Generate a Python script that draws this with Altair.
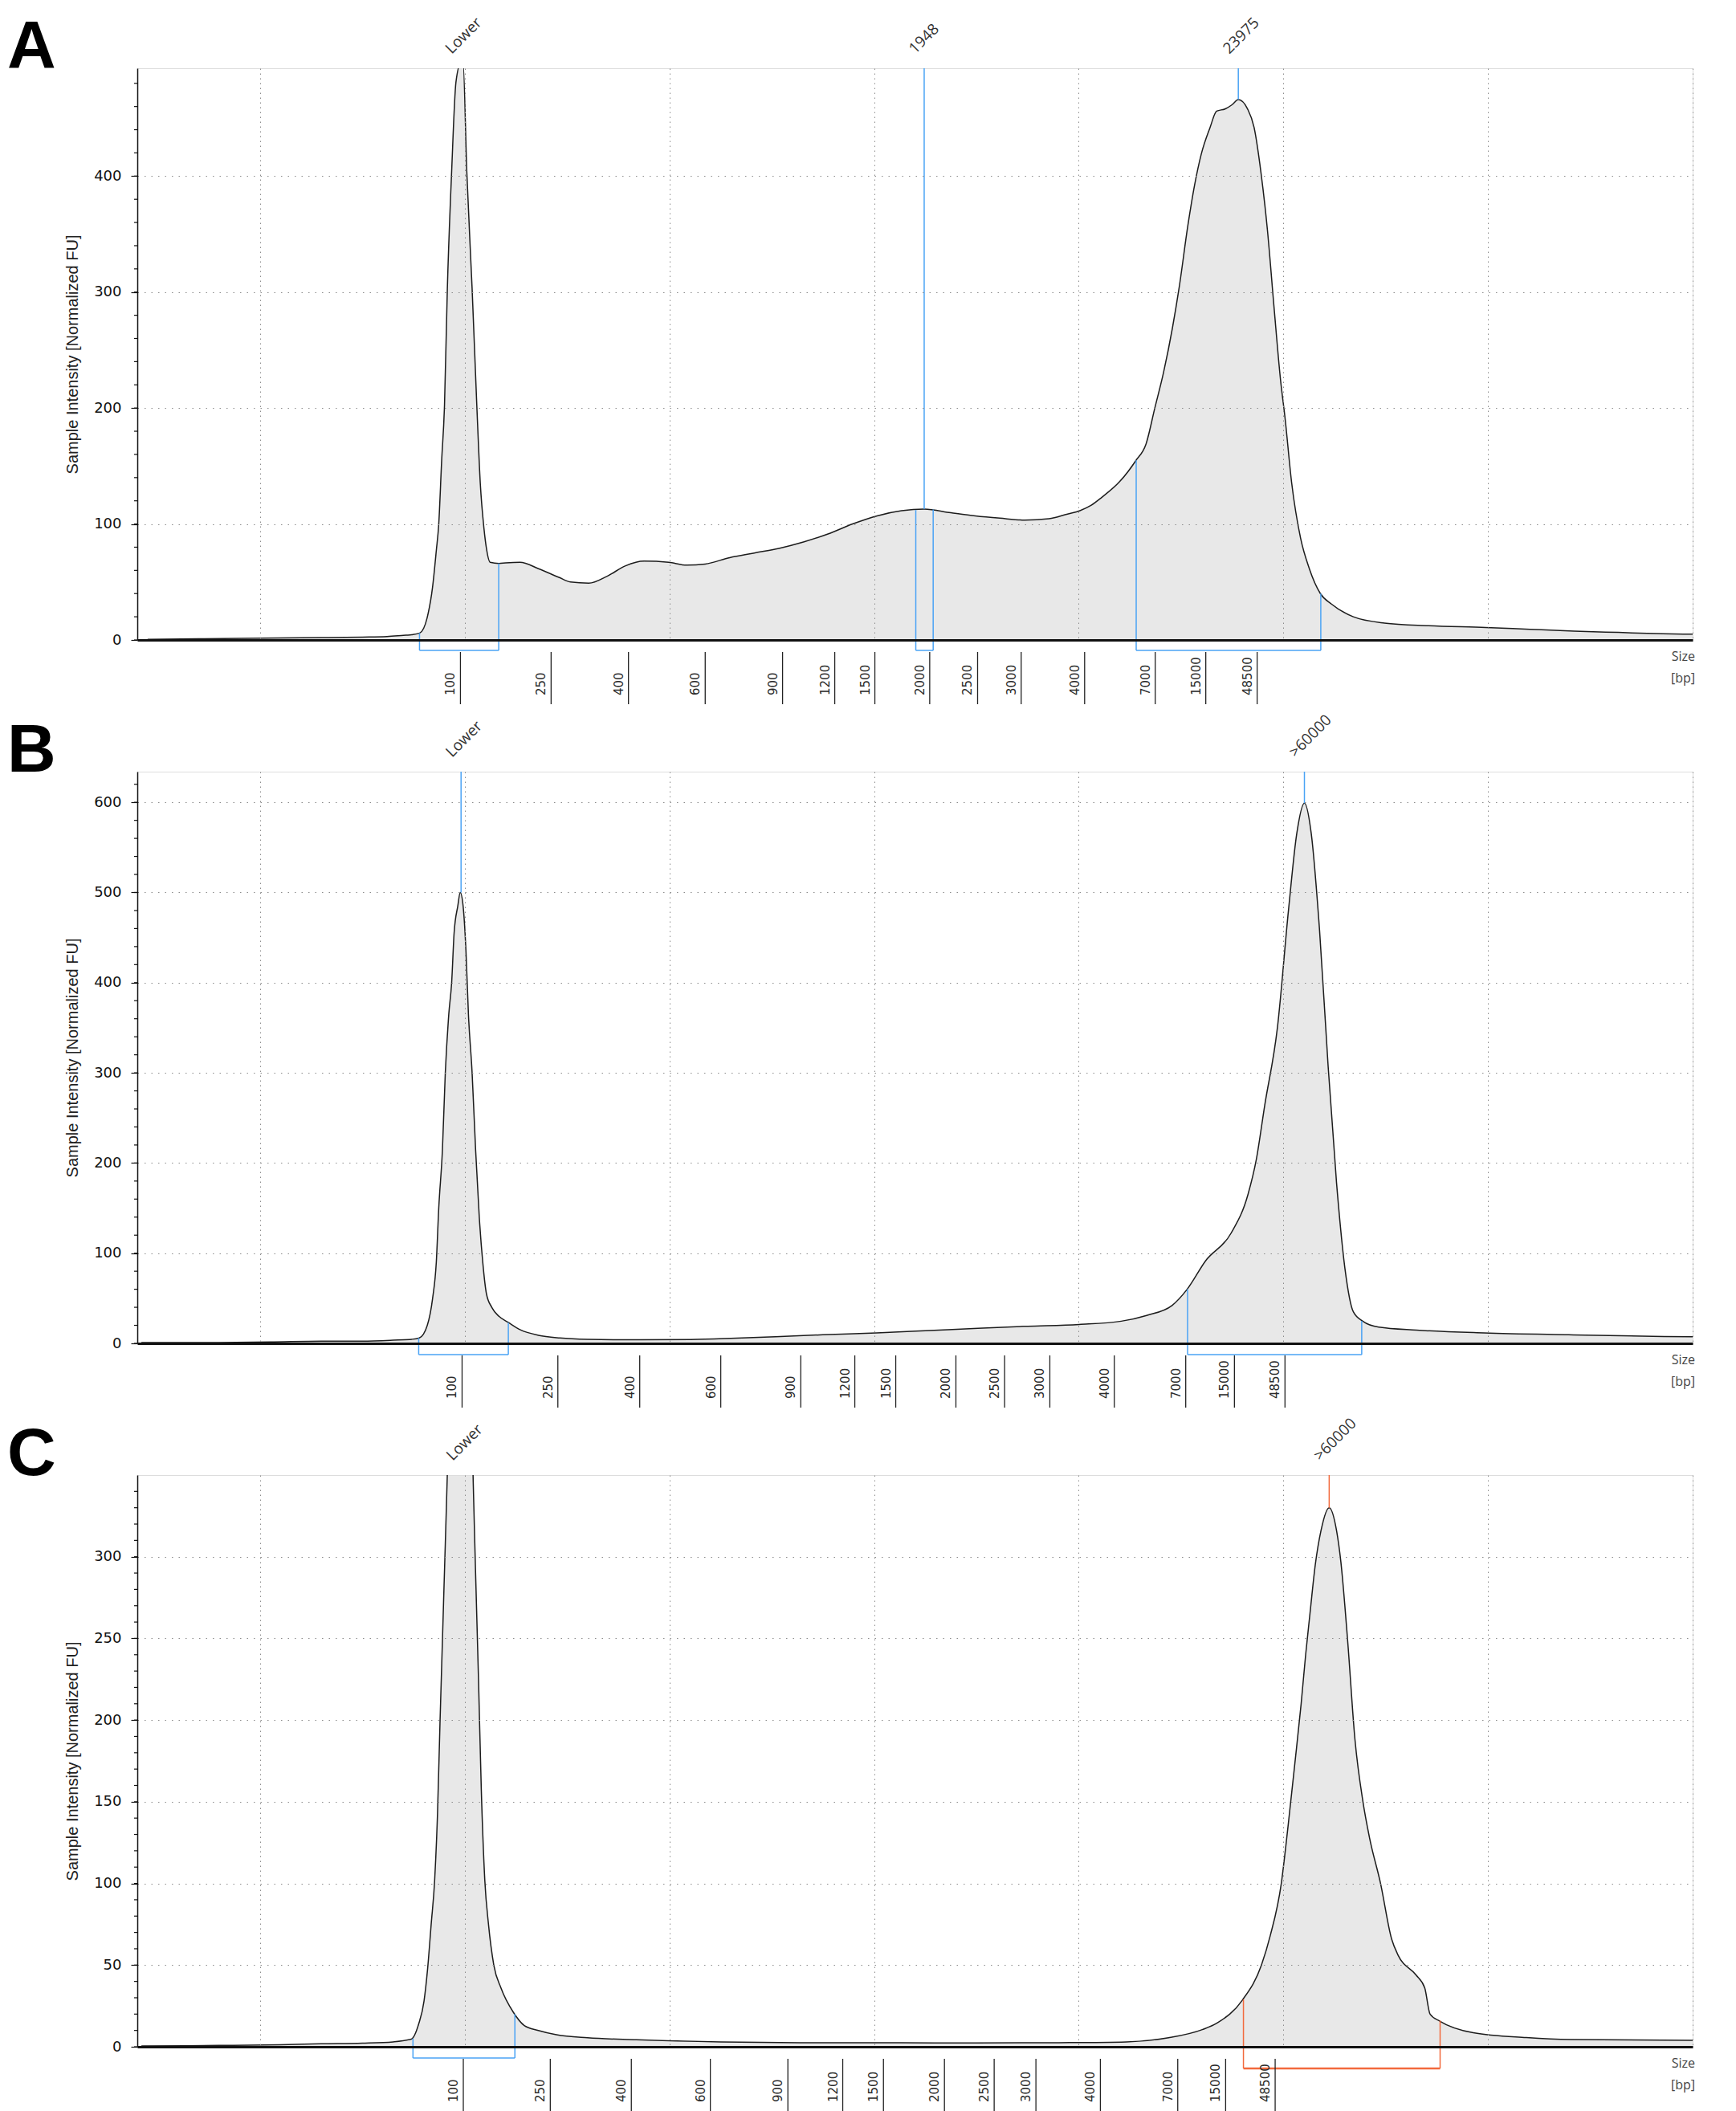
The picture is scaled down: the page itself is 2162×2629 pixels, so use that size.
import altair as alt
import pandas as pd

W, H = 1937, 712
BLUE = "#4aa3f5"
ORANGE = "#f26a3d"

# ---------------- data ----------------
LADDER_LABELS = ["100", "250", "400", "600", "900", "1200", "1500", "2000",
                 "2500", "3000", "4000", "7000", "15000", "48500"]

# Panel A
A_t = [0.45, 0.7, 1.0, 1.3, 1.5, 1.62, 1.7, 1.74, 1.78, 1.816, 1.843, 1.861, 1.873,
       1.887, 1.901, 1.915, 1.936, 1.957, 1.98, 1.992, 2.01, 2.036, 2.059, 2.076,
       2.094, 2.106, 2.124, 2.167, 2.2, 2.27, 2.36, 2.46, 2.516, 2.606, 2.696,
       2.786, 2.876, 2.996, 3.085, 3.175, 3.295, 3.415, 3.535, 3.655, 3.775, 3.895,
       4.015, 4.135, 4.245, 4.375, 4.495, 4.615, 4.735, 4.855, 4.945, 5.006, 5.06,
       5.113, 5.2, 5.279, 5.329, 5.372, 5.415, 5.458, 5.491, 5.534, 5.566, 5.599,
       5.642, 5.674, 5.717, 5.749, 5.78, 5.825, 5.857, 5.89, 5.922, 5.954, 5.987,
       6.008, 6.041, 6.084, 6.127, 6.181, 6.235, 6.342, 6.494, 6.709, 6.989, 7.205,
       7.421, 7.637, 7.853, 8.0]
A_v = [0.5, 1, 1.5, 2, 2.5, 3, 4, 4.5, 6, 19, 46, 77, 100,
       154, 202, 303, 404, 481, 497, 497, 404, 303, 202, 135,
       96, 79, 67, 66, 66.5, 67, 61.5, 54, 50, 49, 55,
       64, 68, 67, 64.5, 65.5, 71, 75, 79, 84.5, 91.4, 100,
       107, 111.4, 112.8, 109.7, 107, 105, 103.4, 104.5, 108.6, 111.5, 116,
       123, 136.5, 154.6, 169, 200, 231, 269, 304, 358, 392, 419,
       442, 456, 458, 461.5, 466, 458, 442, 404, 354, 288, 223,
       192, 135, 88, 61.5, 40, 31, 20, 14.6, 12.3, 10.8, 9.2,
       7.7, 6.5, 5.4, 5]

# Panel B
B_t = [0.42, 0.8, 1.05, 1.3, 1.5, 1.65, 1.74, 1.778, 1.817, 1.843, 1.861, 1.873, 1.891,
       1.905, 1.922, 1.936, 1.948, 1.966, 1.978, 1.992, 2.006, 2.018, 2.036, 2.053,
       2.071, 2.088, 2.106, 2.132, 2.167, 2.211, 2.272, 2.36, 2.465, 2.6, 2.858,
       3.105, 3.3, 3.518, 3.75, 4.012, 4.25, 4.507, 4.75, 5.002, 5.208, 5.332,
       5.456, 5.53, 5.62, 5.744, 5.827, 5.868, 5.909, 5.971, 6.025, 6.066, 6.103,
       6.136, 6.177, 6.219, 6.26, 6.301, 6.342, 6.388, 6.466, 6.651, 6.981, 7.394,
       7.806, 8.0]
B_v = [1, 1, 1.5, 2.5, 2.5, 3.5, 4.5, 6, 20, 50, 90, 150, 215,
       300, 365, 400, 455, 485, 500, 485, 435, 365, 300, 215,
       140, 90, 55, 40, 30, 23.5, 15, 9, 6, 4.5, 3.9,
       4.3, 5.5, 7.3, 9.5, 11.6, 14, 16.8, 19, 21, 24.6, 31,
       42, 60, 91.5, 122, 165, 204, 264, 350, 480, 566, 599,
       566, 458, 307, 178, 83, 35, 24.6, 18, 14.7, 11.6, 9.5,
       7.8, 7.3]

# Panel C
C_t = [0.42, 0.8, 1.1, 1.3, 1.5, 1.65, 1.739, 1.775, 1.801, 1.818, 1.836, 1.853, 1.867,
       1.879, 1.892, 1.905, 1.98, 2.055, 2.067, 2.081, 2.098, 2.116, 2.142, 2.177,
       2.238, 2.291, 2.36, 2.448, 2.6, 2.838, 3.251, 3.7, 4.077, 4.5, 4.903, 5.233,
       5.439, 5.604, 5.678, 5.8, 5.893, 5.936, 5.99, 6.023, 6.055, 6.087, 6.109,
       6.13, 6.156, 6.184, 6.224, 6.26, 6.281, 6.314, 6.35, 6.389, 6.421, 6.475,
       6.529, 6.561, 6.648, 6.691, 6.717, 6.766, 6.928, 7.187, 7.402, 8.0]
C_v = [0.5, 0.8, 1.2, 1.8, 2.2, 3, 4.7, 14, 28, 47, 75, 102, 143,
       198, 253, 308, 560, 281, 226, 157, 102, 75, 50, 36,
       21, 13, 10, 7.4, 5.5, 4.3, 3, 2.5, 2.5, 2.3, 2.5, 3,
       5.5, 10.5, 14.7, 28.6, 50, 68, 100, 135, 172, 210, 240,
       265, 295, 316, 330, 316, 297, 249, 188, 150, 128, 100,
       66, 56, 44, 36, 20, 15.6, 8.6, 5.6, 4.4, 3.9]

# Size-ladder positions (in run-time units) for each panel
A_ladder_t = [1.979, 2.422, 2.800, 3.175, 3.553, 3.808, 4.004, 4.272, 4.506, 4.719, 5.029, 5.374, 5.621, 5.872]
B_ladder_t = [1.987, 2.455, 2.855, 3.251, 3.642, 3.906, 4.106, 4.400, 4.638, 4.859, 5.174, 5.523, 5.761, 6.008]
C_ladder_t = [1.993, 2.418, 2.814, 3.200, 3.579, 3.847, 4.046, 4.344, 4.587, 4.791, 5.106, 5.484, 5.718, 5.960]

# Region brackets
A_br_t0 = [1.779, 4.204, 5.281]
A_br_t1 = [2.166, 4.289, 6.183]
A_br_v0 = [6, 112, 155]
A_br_v1 = [66, 112.5, 40]
A_br_col = [BLUE, BLUE, BLUE]
A_br_drop = [13, 13, 13]

B_br_t0 = [1.775, 5.532]
B_br_t1 = [2.213, 6.383]
B_br_v0 = [6, 60]
B_br_v1 = [23, 25]
B_br_col = [BLUE, BLUE]
B_br_drop = [14, 14]

C_br_t0 = [1.747, 5.805]
C_br_t1 = [2.245, 6.766]
C_br_v0 = [5, 29]
C_br_v1 = [20, 16]
C_br_col = [BLUE, ORANGE]
C_br_drop = [14, 27]

# Peak markers (line from top to peak) and peak labels
A_mk_t = [4.245, 5.780]
A_mk_v = [112.8, 466]
A_mk_col = [BLUE, BLUE]
A_lb_t = [1.98, 4.245, 5.780]
A_lb = ["Lower", "1948", "23975"]

B_mk_t = [1.982, 6.103]
B_mk_v = [500, 599]
B_mk_col = [BLUE, BLUE]
B_lb_t = [1.982, 6.103]
B_lb = ["Lower", ">60000"]

C_mk_t = [6.224]
C_mk_v = [330]
C_mk_col = [ORANGE]
C_lb_t = [1.985, 6.224]
C_lb = ["Lower", ">60000"]

GRID_T = [1, 2, 3, 4, 5, 6, 7, 8]
GRID_COLOR = "#8c8c8c"


def panel(letter, t, v, ymax, ymaj, ymin, lad_t, br, mk, lb):
    xs = alt.Scale(domain=[0.4, 8.0], nice=False, zero=False)
    ys = alt.Scale(domain=[0, ymax], nice=False, zero=True)

    area = alt.Chart(pd.DataFrame({"t": t, "v": v})).mark_area(
        interpolate="monotone", color="#dedede", clip=True,
        line={"color": "#1c1c1c", "strokeWidth": 1.5},
    ).encode(
        x=alt.X("t:Q", scale=xs, axis=alt.Axis(
            values=GRID_T, labels=False, ticks=False, title=None,
            domainColor="#111111", domainWidth=3,
            grid=True, gridColor=GRID_COLOR, gridDash=[1.5, 4.5], gridWidth=1, zindex=1)),
        y=alt.Y("v:Q", scale=ys, axis=alt.Axis(
            values=ymaj, title="Sample Intensity [Normalized FU]",
            titleFont="Liberation Sans", titleFontSize=20, titleFontWeight="normal",
            titleColor="#222222", titlePadding=16,
            labelFont="DejaVu Sans", labelFontSize=18, labelColor="#111111",
            labelPadding=12, tickSize=8, tickColor="#111111", tickWidth=1.2,
            domainColor="#111111", domainWidth=1.5,
            grid=True, gridColor=GRID_COLOR, gridDash=[1.5, 7], gridWidth=1, zindex=1)),
    )

    # minor ticks on the left axis
    minor = alt.Chart(pd.DataFrame({"m": ymin})).mark_rule(
        color="#111111", strokeWidth=1.2).encode(
        y=alt.Y("m:Q", scale=ys), x=alt.value(-4), x2=alt.value(0))

    layers = [area, minor]

    bdf = pd.DataFrame({"t0": br[0], "t1": br[1], "v0": br[2], "v1": br[3],
                        "col": br[4], "drop": br[5]})
    for _, r in bdf.iterrows():
        d = pd.DataFrame({"t": [r.t0, r.t1], "v": [r.v0, r.v1]})
        layers.append(alt.Chart(d).mark_rule(color=r.col, strokeWidth=1.5).encode(
            x=alt.X("t:Q", scale=xs), y=alt.Y("v:Q", scale=ys),
            y2=alt.value(H + r["drop"])))
        d2 = pd.DataFrame({"t0": [r.t0], "t1": [r.t1]})
        layers.append(alt.Chart(d2).mark_rule(
            color=r.col, strokeWidth=(2.5 if r.col == ORANGE else 1.5)).encode(
            x=alt.X("t0:Q", scale=xs), x2="t1:Q", y=alt.value(H + r["drop"])))

    mdf = pd.DataFrame({"t": mk[0], "v": mk[1], "col": mk[2]})
    for _, r in mdf.iterrows():
        d = pd.DataFrame({"t": [r.t], "v": [r.v]})
        layers.append(alt.Chart(d).mark_rule(color=r.col, strokeWidth=1.5).encode(
            x=alt.X("t:Q", scale=xs), y=alt.Y("v:Q", scale=ys), y2=alt.value(0)))

    layers.append(alt.Chart(pd.DataFrame({"t": lb[0], "lbl": lb[1]})).mark_text(
        angle=315, align="left", baseline="middle", dx=4, dy=-26,
        font="Open Sans", fontSize=19, color="#333333").encode(
        x=alt.X("t:Q", scale=xs), y=alt.value(0), text="lbl:N"))

    ldf = pd.DataFrame({"t": lad_t, "lbl": LADDER_LABELS})
    layers.append(alt.Chart(ldf).mark_rule(color="#222222", strokeWidth=1.3).encode(
        x=alt.X("t:Q", scale=xs), y=alt.value(H + 15), y2=alt.value(H + 80)))
    layers.append(alt.Chart(ldf).mark_text(
        angle=270, align="left", baseline="bottom", dy=-4,
        font="DejaVu Sans", fontSize=15, color="#2a2a2a").encode(
        x=alt.X("t:Q", scale=xs), y=alt.value(H + 69), text="lbl:N"))

    one = pd.DataFrame({"k": [0]})
    layers.append(alt.Chart(one).mark_text(
        align="right", baseline="middle", lineBreak="\n", lineHeight=27,
        font="Open Sans", fontSize=16, color="#444444").encode(
        x=alt.value(W + 3), y=alt.value(H + 21), text=alt.value("Size\n[bp]")))
    # invisible spacer that fixes the top extent of every panel
    layers.append(alt.Chart(one).mark_rule(opacity=0).encode(
        x=alt.value(0), y=alt.value(-76), y2=alt.value(-75)))
    layers.append(alt.Chart(one).mark_text(
        align="left", baseline="alphabetic", font="Liberation Sans",
        fontSize=84, fontWeight="bold", color="#000000").encode(
        x=alt.value(-162), y=alt.value(0), text=alt.value(letter)))

    return alt.layer(*layers).properties(width=W, height=H)


pA = panel("A", A_t, A_v, 493, [0, 100, 200, 300, 400], list(range(0, 481, 20)),
           A_ladder_t, (A_br_t0, A_br_t1, A_br_v0, A_br_v1, A_br_col, A_br_drop),
           (A_mk_t, A_mk_v, A_mk_col), (A_lb_t, A_lb))
pB = panel("B", B_t, B_v, 634, [0, 100, 200, 300, 400, 500, 600], list(range(0, 621, 20)),
           B_ladder_t, (B_br_t0, B_br_t1, B_br_v0, B_br_v1, B_br_col, B_br_drop),
           (B_mk_t, B_mk_v, B_mk_col), (B_lb_t, B_lb))
pC = panel("C", C_t, C_v, 350, [0, 50, 100, 150, 200, 250, 300], list(range(0, 341, 10)),
           C_ladder_t, (C_br_t0, C_br_t1, C_br_v0, C_br_v1, C_br_col, C_br_drop),
           (C_mk_t, C_mk_v, C_mk_col), (C_lb_t, C_lb))

chart = alt.vconcat(pA, pB, pC, spacing=5).properties(
    padding={"left": 0, "top": 0, "right": 5, "bottom": 0}
).configure_view(stroke=None).configure(background="white")

chart.save("out.html", embed_options={"renderer": "svg", "actions": False})
